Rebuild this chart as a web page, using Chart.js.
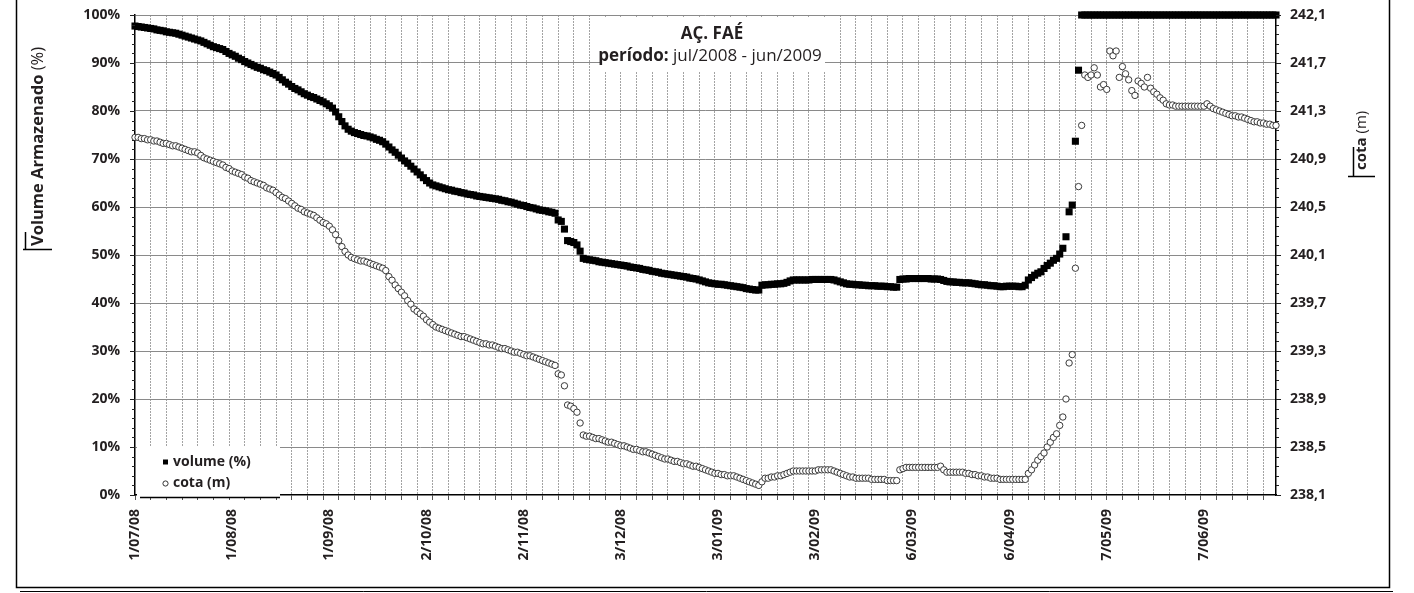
<!DOCTYPE html>
<html><head><meta charset="utf-8">
<script src="https://cdn.jsdelivr.net/npm/chart.js@4.4.1/dist/chart.umd.min.js"></script>
<style>html,body{margin:0;padding:0;background:#fff;}#wrap{width:1414px;height:593px;position:relative;}canvas{display:block;}</style>
</head><body><div id="wrap"><canvas id="c" width="1414" height="593"></canvas></div>
<script>
// ---------- data ----------
const startDate = '1/07/08';
const dateLabels = ['1/07/08','1/08/08','1/09/08','2/10/08','2/11/08','3/12/08','3/01/09','3/02/09','6/03/09','6/04/09','7/05/09','7/06/09'];
const seriesNames = ['volume (%)', 'cota (m)'];
const chartTitle = 'AÇ. FAÉ';
const periodLabel = 'período:';
const periodText = ' jul/2008 - jun/2009';
const leftTitleBold = 'Volume Armazenado';
const leftTitleUnit = ' (%)';
const rightTitleBold = 'cota';
const rightTitleUnit = ' (m)';
const pctTicks = [0,10,20,30,40,50,60,70,80,90,100];
const cotaTicks = [238.1,238.5,238.9,239.3,239.7,240.1,240.5,240.9,241.3,241.7,242.1];

// daily values from 1/07/08 (day 0) to 30/06/09 (day 364)
const volumePct = [
 97.7,97.6,97.5,97.4,97.3,97.2,97.1,96.9,96.8,96.7,
 96.5,96.4,96.3,96.2,96.0,95.8,95.6,95.4,95.2,95.0,
 94.8,94.6,94.3,94.0,93.7,93.4,93.2,93.0,92.8,92.4,
 92.0,91.7,91.4,91.0,90.7,90.3,90.0,89.7,89.4,89.1,
 88.9,88.6,88.4,88.1,87.8,87.5,87.0,86.5,86.0,85.6,
 85.1,84.7,84.4,84.0,83.6,83.3,83.0,82.8,82.5,82.2,
 81.9,81.5,81.1,80.6,79.8,78.8,77.8,76.9,76.2,75.8,
 75.5,75.3,75.1,74.9,74.8,74.6,74.4,74.1,73.9,73.6,
 73.1,72.5,71.9,71.4,70.8,70.2,69.6,69.1,68.5,67.9,
 67.3,66.7,66.1,65.5,65.0,64.6,64.4,64.2,64.0,63.8,
 63.6,63.5,63.3,63.2,63.0,62.9,62.7,62.6,62.5,62.3,
 62.2,62.1,62.0,61.9,61.8,61.7,61.6,61.4,61.3,61.1,
 61.0,60.8,60.6,60.4,60.3,60.1,59.9,59.8,59.6,59.4,
 59.3,59.2,59.0,58.9,58.7,57.3,57.0,55.4,53.0,52.8,
 52.6,52.1,50.8,49.3,49.1,49.0,48.9,48.8,48.6,48.5,
 48.4,48.3,48.2,48.1,48.0,47.9,47.8,47.7,47.5,47.4,
 47.3,47.2,47.0,46.9,46.8,46.6,46.5,46.4,46.2,46.1,
 46.0,45.9,45.8,45.7,45.6,45.5,45.4,45.2,45.1,45.0,
 44.8,44.6,44.4,44.2,44.1,44.0,43.9,43.9,43.8,43.7,
 43.6,43.5,43.4,43.3,43.2,43.0,42.9,42.8,42.7,42.7,
 43.7,43.8,43.8,43.9,43.9,44.0,44.0,44.1,44.3,44.6,
 44.8,44.8,44.8,44.8,44.8,44.8,44.9,44.9,44.9,44.9,
 44.9,44.9,44.9,44.8,44.6,44.4,44.2,44.0,43.9,43.9,
 43.8,43.8,43.7,43.7,43.6,43.6,43.6,43.5,43.5,43.5,
 43.4,43.4,43.3,43.3,44.9,45.0,45.0,45.1,45.1,45.1,
 45.1,45.1,45.1,45.1,45.0,45.0,45.0,44.9,44.7,44.5,
 44.4,44.4,44.3,44.3,44.2,44.2,44.2,44.1,44.0,43.9,
 43.8,43.8,43.7,43.6,43.6,43.5,43.4,43.4,43.5,43.5,
 43.5,43.5,43.4,43.4,43.7,44.8,45.3,45.8,46.2,46.5,
 47.2,47.8,48.3,48.9,49.3,50.2,51.4,53.8,59.0,60.4,
 73.7,88.5,100,100,100,100,100,100,100,100,
 100,100,100,100,100,100,100,100,100,100,
 100,100,100,100,100,100,100,100,100,100,
 100,100,100,100,100,100,100,100,100,100,
 100,100,100,100,100,100,100,100,100,100,
 100,100,100,100,100,100,100,100,100,100,
 100,100,100,100,100
];
const cotaM = [
 241.08,241.08,241.07,241.07,241.06,241.06,241.05,241.05,241.04,241.03,
 241.03,241.02,241.01,241.01,241.00,240.99,240.98,240.97,240.96,240.96,
 240.95,240.93,240.91,240.90,240.89,240.88,240.87,240.86,240.85,240.83,
 240.82,240.80,240.79,240.78,240.77,240.75,240.74,240.72,240.71,240.70,
 240.69,240.68,240.66,240.65,240.64,240.62,240.60,240.58,240.57,240.55,
 240.53,240.51,240.49,240.48,240.46,240.45,240.44,240.43,240.41,240.39,
 240.37,240.36,240.34,240.31,240.27,240.22,240.17,240.13,240.10,240.08,
 240.07,240.06,240.05,240.05,240.04,240.03,240.02,240.01,240.00,239.99,
 239.97,239.92,239.89,239.85,239.82,239.79,239.76,239.72,239.69,239.65,
 239.63,239.61,239.59,239.56,239.54,239.52,239.50,239.49,239.48,239.47,
 239.46,239.45,239.44,239.43,239.42,239.42,239.41,239.40,239.39,239.38,
 239.37,239.36,239.36,239.35,239.35,239.34,239.33,239.32,239.32,239.31,
 239.30,239.29,239.29,239.28,239.27,239.26,239.26,239.25,239.24,239.23,
 239.22,239.21,239.20,239.19,239.18,239.11,239.10,239.01,238.85,238.84,
 238.82,238.79,238.70,238.60,238.59,238.59,238.58,238.57,238.57,238.56,
 238.55,238.54,238.54,238.53,238.52,238.51,238.51,238.50,238.49,238.48,
 238.48,238.47,238.46,238.46,238.45,238.44,238.43,238.42,238.41,238.40,
 238.40,238.39,238.38,238.38,238.37,238.36,238.36,238.35,238.34,238.34,
 238.33,238.32,238.31,238.30,238.29,238.28,238.28,238.27,238.27,238.26,
 238.26,238.26,238.25,238.24,238.23,238.22,238.21,238.20,238.19,238.18,
 238.21,238.24,238.24,238.25,238.25,238.26,238.26,238.27,238.28,238.29,
 238.30,238.30,238.30,238.30,238.30,238.30,238.30,238.30,238.31,238.31,
 238.31,238.31,238.31,238.30,238.29,238.28,238.27,238.26,238.25,238.25,
 238.24,238.24,238.24,238.24,238.24,238.23,238.23,238.23,238.23,238.23,
 238.22,238.22,238.22,238.22,238.31,238.32,238.33,238.33,238.33,238.33,
 238.33,238.33,238.33,238.33,238.33,238.33,238.33,238.34,238.31,238.29,
 238.29,238.29,238.29,238.29,238.29,238.28,238.28,238.27,238.27,238.26,
 238.26,238.25,238.25,238.24,238.24,238.24,238.23,238.23,238.23,238.23,
 238.23,238.23,238.23,238.23,238.23,238.28,238.31,238.35,238.39,238.42,
 238.45,238.50,238.54,238.58,238.61,238.68,238.75,238.90,239.20,239.27,
 239.99,240.67,241.18,241.60,241.58,241.60,241.66,241.60,241.50,241.52,
 241.48,241.80,241.76,241.80,241.58,241.67,241.61,241.56,241.47,241.43,
 241.55,241.53,241.50,241.58,241.49,241.46,241.44,241.41,241.39,241.36,
 241.35,241.35,241.34,241.34,241.34,241.34,241.34,241.34,241.34,241.34,
 241.34,241.34,241.36,241.34,241.32,241.31,241.30,241.29,241.28,241.27,
 241.26,241.26,241.25,241.25,241.24,241.23,241.22,241.21,241.21,241.20,
 241.20,241.19,241.19,241.18,241.18
];

// ---------- helpers ----------
function parseDMY(s){const p=s.split('/');return Date.UTC(2000+ +p[2], +p[1]-1, +p[0]);}
const t0 = parseDMY(startDate);
const labelDays = {};
dateLabels.forEach(s=>{labelDays[Math.round((parseDMY(s)-t0)/86400000)] = s;});
const lastDay = volumePct.length - 1;
const FONT = "'Open Sans', 'DejaVu Sans', sans-serif";
const TXT = '#231f20';
const PLOT = {left:135, right:1276, top:15, bottom:495};

const volData = volumePct.map((v,i)=>({x:i,y:v}));
const cotaData = cotaM.map((v,i)=>({x:i,y:v}));

function noPad(s){ s.paddingTop = 0; s.paddingBottom = 0; s.paddingLeft = 0; s.paddingRight = 0; }

const decorPlugin = {
  id:'decor',
  afterDraw(chart){
    const ctx = chart.ctx, ca = chart.chartArea;
    const yL = chart.scales.yL, yR = chart.scales.yR;
    ctx.save();
    // axis ticks (major 10%, minor 2%; right: major 0.4 m, minor 0.08 m)
    ctx.strokeStyle = '#222'; ctx.lineWidth = 1;
    ctx.beginPath();
    for (let v=0; v<=100; v+=2){ const L = v%10===0 ? 5 : 3; const y=Math.round(yL.getPixelForValue(v))+0.5; ctx.moveTo(ca.left-L,y); ctx.lineTo(ca.left,y);}
    for (let k=0;k<=50;k++){ const L = k%5===0 ? 5 : 3; const v=cotaTicks[0]+k*0.08; const y=Math.round(yR.getPixelForValue(v))+0.5; ctx.moveTo(ca.right,y); ctx.lineTo(ca.right+L,y);}
    ctx.stroke();

    // title box
    ctx.fillStyle='#fff'; ctx.fillRect(600,18,225,54);
    ctx.fillStyle=TXT; ctx.textBaseline='alphabetic';
    ctx.font = 'bold 17px '+FONT; ctx.textAlign='center';
    ctx.fillText(chartTitle, 712, 39);
    ctx.textAlign='left';
    ctx.font='bold 17px '+FONT; const w1=ctx.measureText(periodLabel).width;
    ctx.font='17px '+FONT; const w2=ctx.measureText(periodText).width;
    let sx = 710 - (w1+w2)/2;
    ctx.font='bold 17px '+FONT; ctx.fillText(periodLabel, sx, 61);
    ctx.font='17px '+FONT; ctx.fillText(periodText, sx+w1, 61);

    // legend
    ctx.fillStyle='#fff'; ctx.fillRect(137,447,143,50);
    ctx.strokeStyle='#000'; ctx.lineWidth=1.5;
    ctx.beginPath(); ctx.moveTo(140,497.5); ctx.lineTo(280,497.5); ctx.stroke();
    ctx.fillStyle='#000'; ctx.fillRect(163,459.5,5,5);
    ctx.lineWidth=1; ctx.strokeStyle='#333'; ctx.fillStyle='#fff';
    ctx.beginPath(); ctx.arc(165.5,483.5,2.6,0,Math.PI*2); ctx.fill(); ctx.stroke();
    ctx.fillStyle=TXT; ctx.font='bold 14px '+FONT; ctx.textBaseline='middle';
    ctx.fillText(seriesNames[0], 173, 462);
    ctx.fillText(seriesNames[1], 173, 483);

    // axis titles
    ctx.save(); ctx.translate(38,246); ctx.rotate(-Math.PI/2);
    ctx.font='bold 16.5px '+FONT; ctx.textAlign='left'; ctx.textBaseline='middle';
    ctx.fillText(leftTitleBold,0,0); const lw=ctx.measureText(leftTitleBold).width;
    ctx.font='16.5px '+FONT; ctx.fillText(leftTitleUnit,lw,0);
    ctx.restore();
    ctx.save(); ctx.translate(1362,170); ctx.rotate(-Math.PI/2);
    ctx.font='bold 15px '+FONT; ctx.textAlign='left'; ctx.textBaseline='middle';
    ctx.fillText(rightTitleBold,0,0); const rw=ctx.measureText(rightTitleBold).width;
    ctx.font='15px '+FONT; ctx.fillText(rightTitleUnit,rw,0);
    ctx.restore();
    // small marks beside axis titles
    ctx.strokeStyle='#000'; ctx.lineWidth=1.5;
    ctx.beginPath();
    ctx.moveTo(25.5,232); ctx.lineTo(25.5,249);
    ctx.moveTo(23,249.5); ctx.lineTo(52,249.5);
    ctx.moveTo(1353.5,147); ctx.lineTo(1353.5,176);
    ctx.moveTo(1348,176.5); ctx.lineTo(1375,176.5);
    ctx.stroke();

    // frame
    ctx.lineWidth=1.5; ctx.strokeStyle='#000';
    ctx.beginPath();
    ctx.moveTo(16.5,0); ctx.lineTo(16.5,587.5); ctx.lineTo(1389.5,587.5); ctx.lineTo(1389.5,0);
    ctx.stroke();
    ctx.lineWidth=1; ctx.beginPath(); ctx.moveTo(20,591.5); ctx.lineTo(1393,591.5); ctx.stroke();
    ctx.restore();
  }
};

const chart = new Chart(document.getElementById('c'), {
  type:'scatter',
  data:{datasets:[
    {label:seriesNames[0], data:volData, yAxisID:'yL', pointStyle:'rect', pointRadius:5, pointHoverRadius:5,
     backgroundColor:'#000', borderColor:'#000', borderWidth:0, showLine:false, clip:false, order:1},
    {label:seriesNames[1], data:cotaData, yAxisID:'yR', pointStyle:'circle', pointRadius:3.2, pointHoverRadius:3.2,
     backgroundColor:'#fff', borderColor:'#3a3a3a', borderWidth:1, showLine:false, clip:false, order:0}
  ]},
  options:{
    responsive:false, animation:false, events:[],
    layout:{padding:{top:PLOT.top,left:0,right:0,bottom:0}},
    plugins:{legend:{display:false}, tooltip:{enabled:false}},
    scales:{
      x:{type:'linear', min:0, max:lastDay,
        afterFit(s){s.height=593-PLOT.bottom; noPad(s);},
        afterBuildTicks(s){
          const set = new Set();
          for (let d=0; d<=lastDay; d+=5) set.add(d);
          Object.keys(labelDays).forEach(d=>set.add(+d));
          s.ticks = Array.from(set).sort((a,b)=>a-b).map(v=>({value:v}));
        },
        ticks:{autoSkip:false, minRotation:90, maxRotation:90, padding:9,
          font:{family:FONT, size:14, weight:'bold'}, color:TXT,
          callback:(v)=> labelDays[v] || ''},
        grid:{color:(c)=> (c.tick && c.tick.value%5===0 && c.tick.value>0) ? '#a3a3a3' : 'rgba(0,0,0,0)',
              tickColor:(c)=> (c.tick && c.tick.value%5===0) ? '#555' : 'rgba(0,0,0,0)',
              tickLength:5, lineWidth:1},
        border:{display:true, color:'#000', width:1.5, dash:[2,1]}
      },
      yL:{type:'linear', position:'left', min:0, max:100,
        afterFit(s){s.width=PLOT.left; noPad(s);},
        afterBuildTicks(s){ s.ticks = pctTicks.map(v=>({value:v})); },
        ticks:{padding:0, font:{family:FONT, size:14, weight:'bold'}, color:TXT, callback:(v)=>v+'%'},
        grid:{color:(c)=> (c.tick && c.tick.value>0) ? '#8a8a8a' : 'rgba(0,0,0,0)', tickColor:'rgba(0,0,0,0)', tickLength:15, lineWidth:1},
        border:{display:true, color:'#000', width:1.5}
      },
      yR:{type:'linear', position:'right', min:cotaTicks[0], max:cotaTicks[cotaTicks.length-1],
        afterFit(s){s.width=1414-PLOT.right; noPad(s);},
        afterBuildTicks(s){ s.ticks = cotaTicks.map(v=>({value:v})); },
        ticks:{padding:0, font:{family:FONT, size:14, weight:'bold'}, color:TXT, callback:(v)=>v.toFixed(1).replace('.',',')},
        grid:{drawOnChartArea:false, color:'rgba(0,0,0,0)', tickColor:'rgba(0,0,0,0)', tickLength:14},
        border:{display:true, color:'#000', width:1.5}
      }
    }
  },
  plugins:[decorPlugin]
});
</script></body></html>
